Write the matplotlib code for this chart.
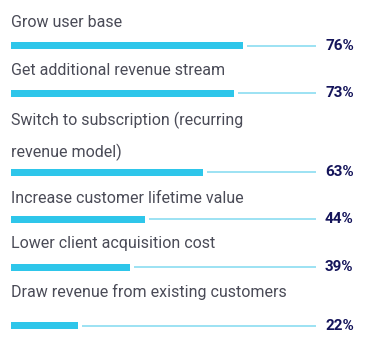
import matplotlib
matplotlib.use("Agg")
import matplotlib.pyplot as plt

# data
labels = [
    "Grow user base",
    "Get additional revenue stream",
    "Switch to subscription (recurring\nrevenue model)",
    "Increase customer lifetime value",
    "Lower client acquisition cost",
    "Draw revenue from existing customers",
]
values = [76, 73, 63, 44, 39, 22]

# layout (pixel rows, top-down); label_y is the baseline of the last line
bar_y = [45.7, 93.3, 172.3, 219.3, 267.3, 325.7]
label_y = [27, 75, 156.7, 203, 248, 296.7]
LINE_STEP = 31.7

BAR_C = "#2ec6ea"
TRACK_C = "#94dff2"
LABEL_C = "#4a4b57"
PCT_C = "#14145a"

W, H = 375, 353
fig = plt.figure(figsize=(W / 100, H / 100), dpi=100)
# x: 0% at px 11, 100% at px 316
ax = fig.add_axes([11 / W, 0, 305 / W, 1])
ax.set_xlim(0, 100)
ax.set_ylim(H, 0)
ax.axis("off")

px = 100 / 305  # one pixel in x data units
for lab, v, yb, yl in zip(labels, values, bar_y, label_y):
    ax.barh(yb, v, height=7, left=0, color=BAR_C, edgecolor="none")
    ax.plot([v + 4 * px, 100], [yb, yb], color=TRACK_C, lw=1.3,
            solid_capstyle="butt")
    lines = lab.split("\n")
    for k, ln in enumerate(lines):
        ax.text(0, yl - (len(lines) - 1 - k) * LINE_STEP, ln, ha="left",
                va="baseline", fontsize=11.5, family="Roboto",
                color=LABEL_C, clip_on=False)
    ax.text(100 + 9 * px, yb, f"{v}%", ha="left", va="center",
            fontsize=11, family="Roboto", fontweight="bold",
            color=PCT_C, clip_on=False)

fig.savefig("out.png", dpi=100)
